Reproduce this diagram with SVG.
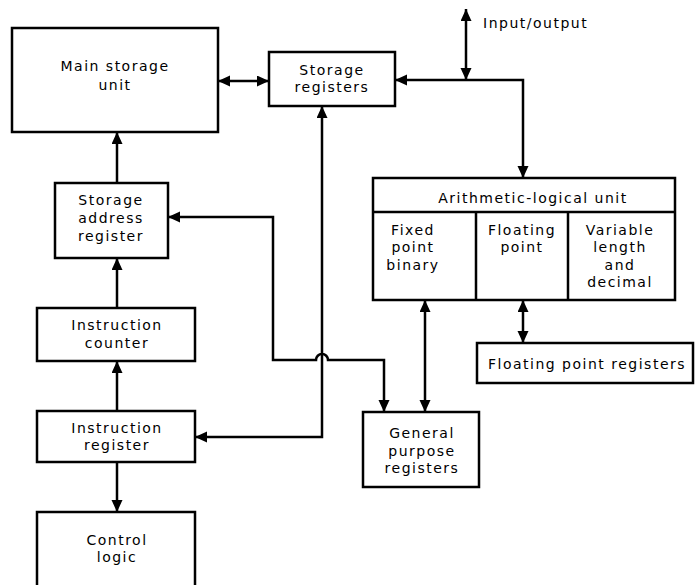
<svg xmlns="http://www.w3.org/2000/svg" width="695" height="585" viewBox="0 0 695 585">
<style>
.box{fill:#fff;stroke:#000;stroke-width:2.5}
.ln{fill:none;stroke:#000;stroke-width:2.5}
.t{font-family:"DejaVu Sans",sans-serif;font-size:14px;letter-spacing:1.5px;fill:#000;text-anchor:middle}
.c{fill:none;stroke:#000;stroke-width:2.5;marker-end:url(#ah)}
.cb{fill:none;stroke:#000;stroke-width:2.5;marker-start:url(#ah);marker-end:url(#ah)}
</style>
<defs>
<marker id="ah" markerUnits="userSpaceOnUse" markerWidth="13" markerHeight="12" refX="12" refY="5.5" orient="auto-start-reverse" viewBox="0 0 13 12">
<path d="M0,0 L12,5.5 L0,11 z" fill="#000"/>
</marker>
</defs>
<rect width="695" height="585" fill="#fff"/>
<g id="connectors">
<path class="cb" d="M218,81 H269"/>
<path class="cb" d="M395,80 H523 V178"/>
<path class="cb" d="M466,9 V80"/>
<path class="c" d="M117,183 V132"/>
<path class="c" d="M117,308 V258"/>
<path class="c" d="M117,411 V361"/>
<path class="c" d="M117,462 V512"/>
<path class="cb" d="M322,106 V437 H195"/>
<path class="cb" d="M168,217 H273 V360 H316 A6,6 0 0 1 328,360 H384 V412"/>
<path class="cb" d="M425,300 V412"/>
<path class="cb" d="M523,300 V343"/>
</g>
<g id="main-storage">
<rect class="box" x="12" y="28" width="206" height="104"/>
<text class="t" x="115" y="71">Main storage</text>
<text class="t" x="115" y="90">unit</text>
</g>
<g id="storage-registers">
<rect class="box" x="269" y="52" width="126" height="54"/>
<text class="t" x="332" y="75">Storage</text>
<text class="t" x="332" y="92">registers</text>
</g>
<g id="io">
<text class="t" x="483" y="28" style="text-anchor:start">Input/output</text>
</g>
<g id="storage-address-register">
<rect class="box" x="55" y="183" width="113" height="75"/>
<text class="t" x="111" y="205">Storage</text>
<text class="t" x="111" y="223">address</text>
<text class="t" x="111" y="241">register</text>
</g>
<g id="instruction-counter">
<rect class="box" x="37" y="308" width="158" height="53"/>
<text class="t" x="117" y="330">Instruction</text>
<text class="t" x="117" y="348">counter</text>
</g>
<g id="instruction-register">
<rect class="box" x="37" y="411" width="158" height="51"/>
<text class="t" x="117" y="433">Instruction</text>
<text class="t" x="117" y="450">register</text>
</g>
<g id="control-logic">
<rect class="box" x="37" y="512" width="158" height="90"/>
<text class="t" x="117" y="545">Control</text>
<text class="t" x="117" y="562">logic</text>
</g>
<g id="alu">
<rect class="box" x="373" y="178" width="302" height="122"/>
<path class="ln" d="M373,212 H675 M476,212 V300 M568,212 V300"/>
<text class="t" x="533" y="203">Arithmetic-logical unit</text>
<text class="t" x="413" y="235">Fixed</text>
<text class="t" x="413" y="252">point</text>
<text class="t" x="413" y="270">binary</text>
<text class="t" x="522" y="235">Floating</text>
<text class="t" x="522" y="252">point</text>
<text class="t" x="620" y="235">Variable</text>
<text class="t" x="620" y="252">length</text>
<text class="t" x="620" y="270">and</text>
<text class="t" x="620" y="287">decimal</text>
</g>
<g id="floating-point-registers">
<rect class="box" x="477" y="343" width="216" height="40"/>
<text class="t" x="587" y="369">Floating point registers</text>
</g>
<g id="general-purpose-registers">
<rect class="box" x="363" y="412" width="116" height="75"/>
<text class="t" x="422" y="438">General</text>
<text class="t" x="422" y="456">purpose</text>
<text class="t" x="422" y="473">registers</text>
</g>
</svg>
